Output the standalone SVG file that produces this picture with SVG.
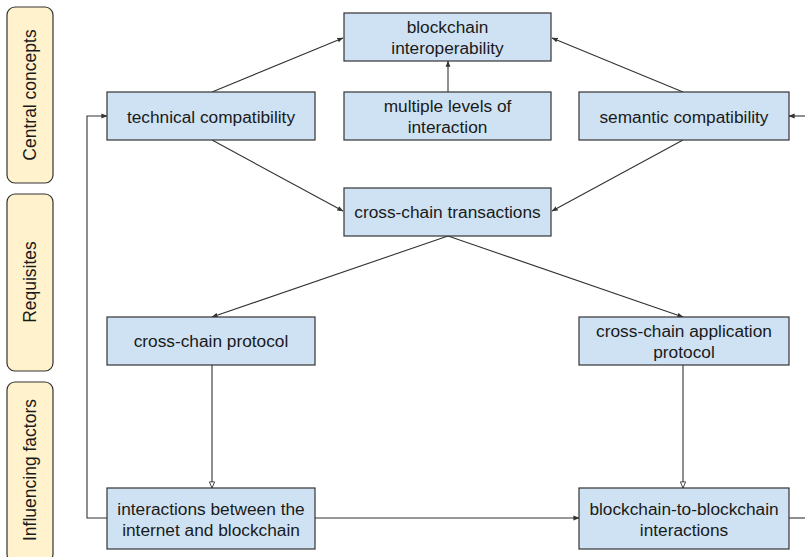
<svg xmlns="http://www.w3.org/2000/svg" width="805" height="557" viewBox="0 0 805 557">
  <defs>
    <style>
      .node rect { fill: #cfe2f3; stroke: #333333; stroke-width: 1.2; }
      .node text, .band text { font-family: "Liberation Sans", Arial, sans-serif; font-size: 17.3px; fill: #1a1a1a; text-anchor: middle; }
      .band text { font-size: 17.5px; }
      .band rect { fill: #fff2cc; stroke: #333333; stroke-width: 1.2; }
      .edge { fill: none; stroke: #333333; stroke-width: 1.1; }
      .solid { marker-end: url(#arrow); }
      .hollow { marker-end: url(#arrow-open); }
    </style>
    <marker id="arrow" viewBox="0 0 8 8" refX="7.5" refY="4" markerWidth="6" markerHeight="6" markerUnits="userSpaceOnUse" orient="auto">
      <path d="M0,0.8 L8,4 L0,7.2 Z" fill="#333333"/>
    </marker>
    <marker id="arrow-open" viewBox="0 0 8 8" refX="7.5" refY="4" markerWidth="7" markerHeight="7" markerUnits="userSpaceOnUse" orient="auto">
      <path d="M0.5,1 L7.5,4 L0.5,7 Z" fill="#ffffff" stroke="#333333" stroke-width="1"/>
    </marker>
  </defs>
  <rect width="805" height="557" fill="#ffffff"/>

  <!-- row bands on the left -->
  <g id="band-central" class="band">
    <rect x="7" y="7" width="46" height="176" rx="8"/>
    <text transform="translate(36,95) rotate(-90)">Central concepts</text>
  </g>
  <g id="band-requisites" class="band">
    <rect x="7" y="194" width="46" height="177" rx="8"/>
    <text transform="translate(36,282) rotate(-90)">Requisites</text>
  </g>
  <g id="band-influencing" class="band">
    <rect x="7" y="382" width="46" height="180" rx="8"/>
    <text transform="translate(36,470) rotate(-90)">Influencing factors</text>
  </g>

  <!-- connectors -->
  <g id="connectors">
    <path class="edge solid" d="M212,92 L343,38"/>
    <path class="edge solid" d="M683,92 L552,38"/>
    <path class="edge solid" d="M448,92 L448,61"/>
    <path class="edge solid" d="M212,140 L343,211"/>
    <path class="edge solid" d="M683,140 L552,211"/>
    <path class="edge solid" d="M448,236 L212,317"/>
    <path class="edge solid" d="M448,236 L683,317"/>
    <path class="edge hollow" d="M212,365 L212,488"/>
    <path class="edge hollow" d="M683,365 L683,488"/>
    <path class="edge solid" d="M315,518 L579,518"/>
    <path class="edge solid" d="M107,518 L87,518 L87,116 L107,116"/>
    <path class="edge" d="M789,518 L805,518"/>
    <path class="edge solid" d="M805,116 L789,116"/>
  </g>

  <!-- nodes -->
  <g id="blockchain-interoperability" class="node">
    <rect x="344" y="13" width="207" height="48"/>
    <text x="447.5" y="33">blockchain</text>
    <text x="447.5" y="54">interoperability</text>
  </g>
  <g id="technical-compatibility" class="node">
    <rect x="107" y="92" width="208" height="48"/>
    <text x="211" y="123">technical compatibility</text>
  </g>
  <g id="multiple-levels" class="node">
    <rect x="344" y="92" width="207" height="48"/>
    <text x="447.5" y="112">multiple levels of</text>
    <text x="447.5" y="133">interaction</text>
  </g>
  <g id="semantic-compatibility" class="node">
    <rect x="579" y="92" width="210" height="48"/>
    <text x="684" y="123">semantic compatibility</text>
  </g>
  <g id="cross-chain-transactions" class="node">
    <rect x="344" y="188" width="207" height="48"/>
    <text x="447.5" y="218">cross-chain transactions</text>
  </g>
  <g id="cross-chain-protocol" class="node">
    <rect x="107" y="317" width="208" height="48"/>
    <text x="211" y="347">cross-chain protocol</text>
  </g>
  <g id="cross-chain-application-protocol" class="node">
    <rect x="579" y="317" width="210" height="48"/>
    <text x="684" y="337">cross-chain application</text>
    <text x="684" y="358">protocol</text>
  </g>
  <g id="internet-blockchain-interactions" class="node">
    <rect x="107" y="488" width="208" height="61"/>
    <text x="211" y="515">interactions between the</text>
    <text x="211" y="536">internet and blockchain</text>
  </g>
  <g id="blockchain-to-blockchain" class="node">
    <rect x="579" y="488" width="210" height="61"/>
    <text x="684" y="515">blockchain-to-blockchain</text>
    <text x="684" y="536">interactions</text>
  </g>
</svg>
